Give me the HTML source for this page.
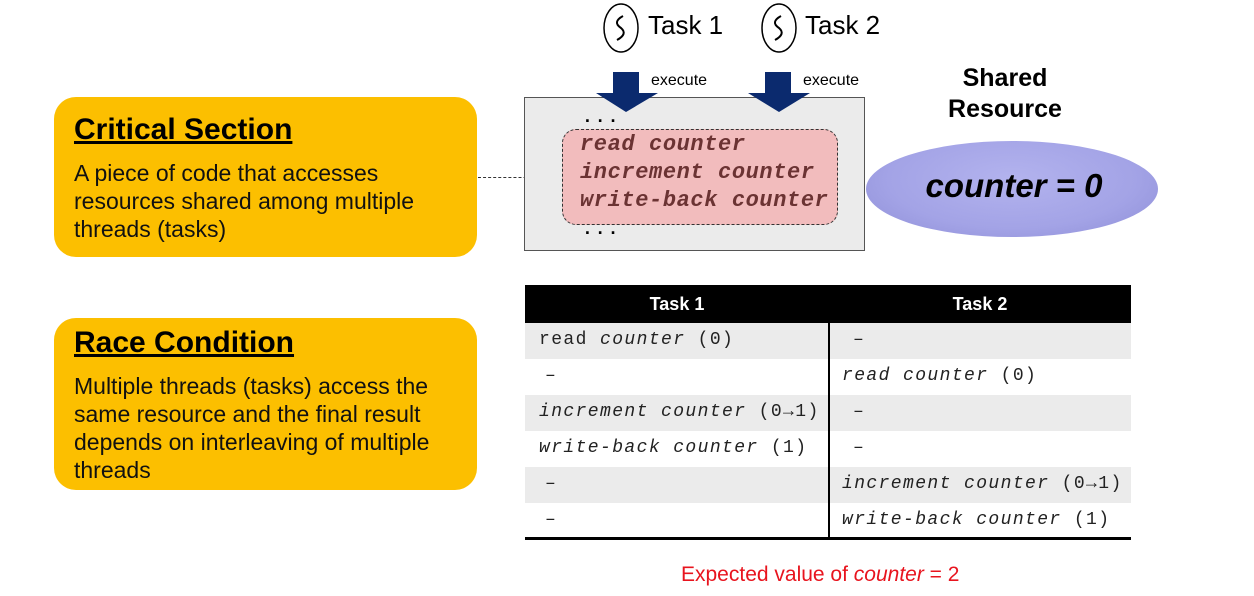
<!DOCTYPE html>
<html><head><meta charset="utf-8"><style>
body{margin:0;width:1254px;height:596px;background:#fff;position:relative;overflow:hidden;font-family:"Liberation Sans",sans-serif}
.a{position:absolute}
.box{background:#fcbf00;border-radius:22px}
.box h2{margin:0;font-size:30px;font-weight:bold;text-decoration:underline;position:absolute;left:20px}
.box p{margin:0;font-size:23px;line-height:28px;position:absolute;left:20px;color:#111;white-space:nowrap}
.mono{font-family:"Liberation Mono",monospace}
.row{position:absolute;left:525px;width:606px;height:36px;font-family:"Liberation Mono",monospace;font-size:18px;color:#222;letter-spacing:1.4px}
.row span{position:absolute;top:7px;white-space:nowrap}
</style></head><body>
<div class="a box" style="left:54px;top:97px;width:423px;height:160px">
<h2 style="top:16px">Critical Section</h2>
<p style="top:62px">A piece of code that accesses<br>resources shared among multiple<br>threads (tasks)</p></div>
<div class="a box" style="left:54px;top:318px;width:423px;height:172px">
<h2 style="top:8px">Race Condition</h2>
<p style="top:54px">Multiple threads (tasks) access the<br>same resource and the final result<br>depends on interleaving of multiple<br>threads</p></div>

<div class="a" style="left:478px;top:177px;width:84px;border-top:1.5px dashed #333"></div>
<div class="a" style="left:524px;top:97px;width:339px;height:152px;background:#ebebeb;border:1.5px solid #555"></div>
<div class="a mono" style="left:582px;top:108px;font-size:18px;font-weight:bold;letter-spacing:2px">...</div>
<div class="a mono" style="left:582px;top:220px;font-size:18px;font-weight:bold;letter-spacing:2px">...</div>
<div class="a" style="left:562px;top:129px;width:274px;height:94px;background:#f2bcbd;border:1.5px dashed #333;border-radius:14px"></div>
<div class="a mono" style="left:580px;top:131px;font-size:22px;letter-spacing:0.6px;line-height:28px;font-weight:bold;font-style:italic;color:#6b3333;white-space:nowrap">read counter<br>increment counter<br>write-back counter</div>

<svg class="a" style="left:0;top:0" width="1254" height="120">
<ellipse cx="621" cy="28" rx="17" ry="24" fill="#fff" stroke="#000" stroke-width="1.5"/>
<path d="M623 16 Q612 22 621 28 Q628 34 617 40" fill="none" stroke="#000" stroke-width="2"/>
<ellipse cx="779" cy="28" rx="17" ry="24" fill="#fff" stroke="#000" stroke-width="1.5"/>
<path d="M781 16 Q770 22 779 28 Q786 34 775 40" fill="none" stroke="#000" stroke-width="2"/>
<polygon points="613,72 639,72 639,93 658,93 626,112 596,93 613,93" fill="#0b2a6e"/>
<polygon points="765,72 791,72 791,93 810,93 779,112 748,93 765,93" fill="#0b2a6e"/>
</svg>
<div class="a" style="left:648px;top:10px;font-size:26px">Task 1</div>
<div class="a" style="left:805px;top:10px;font-size:26px">Task 2</div>
<div class="a" style="left:651px;top:72px;font-size:16px">execute</div>
<div class="a" style="left:803px;top:72px;font-size:16px">execute</div>

<div class="a" style="left:930px;top:63px;width:150px;text-align:center;font-size:25px;font-weight:bold;line-height:31px">Shared<br>Resource</div>
<div class="a" style="left:866px;top:141px;width:292px;height:96px;border-radius:50%;background:radial-gradient(ellipse at 50% 40%,#b3b3ee 0%,#a3a3e6 60%,#8d8dd6 100%)"></div>
<div class="a" style="left:873px;top:167px;width:282px;text-align:center;font-size:33px;font-weight:bold;font-style:italic">counter = 0</div>

<div class="a" style="left:525px;top:285px;width:606px;height:38px;background:#000"></div>
<div class="a" style="left:525px;top:294px;width:304px;text-align:center;color:#fff;font-weight:bold;font-size:18px">Task 1</div>
<div class="a" style="left:829px;top:294px;width:302px;text-align:center;color:#fff;font-weight:bold;font-size:18px">Task 2</div>
<div class="row" style="top:323px;background:#ebebeb"><span style="left:14px">read <i>counter</i> (0)</span><span style="left:328px">–</span></div>
<div class="row" style="top:359px"><span style="left:20px">–</span><span style="left:317px"><i>read counter</i> (0)</span></div>
<div class="row" style="top:395px;background:#ebebeb"><span style="left:14px"><i>increment counter</i> (0<b>→</b>1)</span><span style="left:328px">–</span></div>
<div class="row" style="top:431px"><span style="left:14px"><i>write-back counter</i> (1)</span><span style="left:328px">–</span></div>
<div class="row" style="top:467px;background:#ebebeb"><span style="left:20px">–</span><span style="left:317px"><i>increment counter</i> (0<b>→</b>1)</span></div>
<div class="row" style="top:503px"><span style="left:20px">–</span><span style="left:317px"><i>write-back counter</i> (1)</span></div>
<div class="a" style="left:828px;top:323px;width:2px;height:215px;background:#000"></div>
<div class="a" style="left:525px;top:537px;width:606px;height:3px;background:#000"></div>
<div class="a" style="left:681px;top:563px;font-size:21px;color:#e8141e">Expected value of <i>counter</i> = 2</div>
</body></html>
